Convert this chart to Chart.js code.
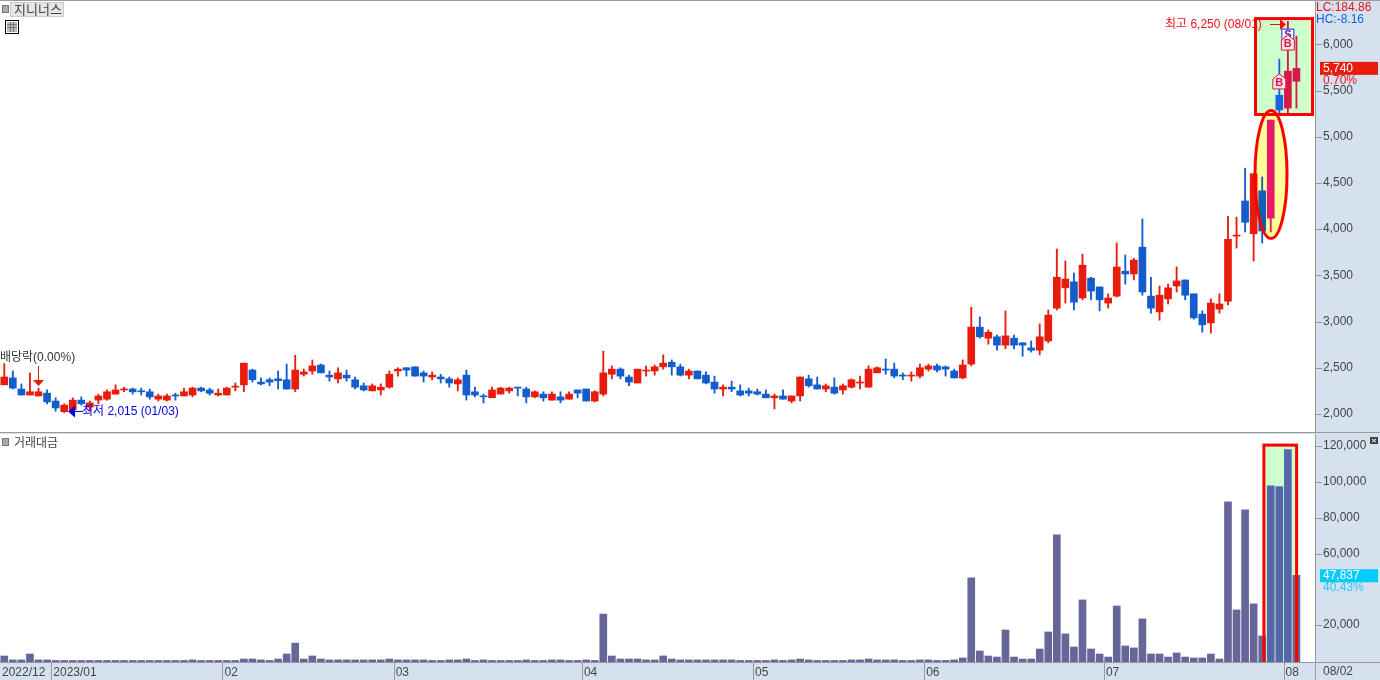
<!DOCTYPE html>
<html>
<head>
<meta charset="utf-8">
<script src="https://cdn.jsdelivr.net/npm/chart.js@4"></script>
<style>
  html, body { margin: 0; padding: 0; background: #d6e1ef; overflow: hidden; }
  #wrap { position: relative; width: 1380px; height: 680px; }
  canvas { position: absolute; left: 0; background: #d6e1ef; }
  #price { top: 0; }
  #volume { top: 434px; }
</style>
</head>
<body>
<div id="wrap">
  <canvas id="price" width="1380" height="433"></canvas>
  <canvas id="volume" width="1380" height="246"></canvas>
</div>
<script>
// --- Data ---
const opens = [
  2315,2390,2270,2205,2195,2225,2140,2025,2045,2150,
  2075,2150,2160,2215,2260,2270,2250,2240,2160,2150,
  2205,2195,2205,2280,2260,2205,2205,2290,2315,2475,
  2345,2370,2380,2370,2270,2430,2465,2530,2420,2380,
  2420,2370,2305,2250,2260,2290,2465,2500,2510,2445,
  2400,2400,2380,2325,2420,2240,2195,2175,2215,2250,
  2290,2270,2185,2215,2150,2185,2160,2260,2270,2140,
  2215,2430,2485,2400,2335,2465,2465,2510,2560,2510,
  2420,2465,2420,2345,2270,2290,2250,2250,2240,2215,
  2175,2195,2140,2195,2380,2315,2270,2290,2260,2290,
  2335,2290,2445,2485,2485,2420,2410,2410,2485,2520,
  2510,2465,2390,2540,2940,2820,2835,2745,2820,2770,
  2715,2690,2790,3145,3365,3430,3255,3470,3375,3200,
  3275,3545,3515,3805,3275,3105,3245,3385,3450,3300,
  3080,2985,3135,3220,3925,4305,3950,4415,4120,5450,
  5310,5600
];
const highs = [
  2545,2465,2325,2445,2280,2260,2175,2110,2175,2185,
  2140,2215,2260,2315,2290,2280,2280,2270,2215,2215,
  2225,2280,2290,2290,2280,2270,2290,2335,2550,2485,
  2390,2390,2465,2540,2635,2485,2585,2540,2465,2500,
  2475,2400,2335,2325,2325,2465,2500,2500,2510,2465,
  2455,2430,2400,2390,2475,2290,2215,2290,2290,2290,
  2290,2290,2250,2240,2240,2240,2240,2260,2270,2250,
  2680,2520,2500,2420,2485,2520,2530,2640,2585,2540,
  2485,2465,2455,2410,2315,2355,2315,2280,2270,2260,
  2215,2260,2195,2400,2420,2400,2325,2390,2325,2380,
  2410,2520,2510,2595,2550,2445,2455,2540,2540,2540,
  2520,2485,2585,3155,3050,2910,2855,3115,2855,2770,
  2790,2975,3125,3785,3655,3525,3730,3480,3375,3300,
  3850,3720,3685,4110,3480,3385,3405,3590,3450,3300,
  3115,3245,3300,4140,4130,4660,4600,4565,5180,5840,
  6250,6090
];
const lows = [
  2315,2270,2205,2205,2195,2110,2030,2015,2030,2095,
  2030,2110,2150,2215,2240,2215,2205,2160,2140,2140,
  2150,2195,2185,2240,2205,2195,2205,2250,2240,2345,
  2315,2305,2270,2270,2240,2410,2430,2445,2355,2335,
  2355,2270,2250,2250,2205,2280,2410,2410,2410,2345,
  2370,2335,2290,2250,2150,2185,2120,2175,2215,2225,
  2195,2120,2175,2140,2150,2120,2160,2175,2140,2130,
  2195,2380,2380,2305,2335,2410,2420,2485,2420,2410,
  2380,2380,2325,2225,2195,2240,2195,2195,2205,2175,
  2055,2160,2120,2140,2290,2270,2240,2215,2215,2280,
  2270,2290,2445,2430,2390,2370,2355,2390,2465,2455,
  2410,2390,2380,2520,2820,2755,2690,2705,2705,2625,
  2670,2640,2770,3125,3200,3125,3235,3235,3115,3145,
  3265,3405,3450,3285,3090,3015,3190,3320,3235,3025,
  2885,2875,3090,3180,3795,3970,3655,3850,3970,5255,
  5235,5310
];
const closes = [
  2400,2280,2205,2240,2240,2130,2065,2095,2150,2110,
  2120,2195,2240,2260,2270,2240,2240,2185,2195,2195,
  2195,2240,2280,2250,2225,2225,2280,2295,2550,2370,
  2325,2345,2360,2270,2475,2455,2520,2445,2400,2445,
  2390,2290,2260,2305,2290,2430,2485,2475,2410,2410,
  2420,2380,2335,2370,2205,2205,2185,2260,2280,2280,
  2280,2185,2240,2175,2215,2150,2215,2225,2140,2240,
  2445,2485,2410,2345,2485,2475,2510,2550,2510,2420,
  2465,2380,2335,2270,2290,2270,2205,2225,2215,2175,
  2195,2160,2195,2400,2305,2270,2305,2225,2305,2370,
  2345,2485,2500,2475,2410,2410,2420,2500,2520,2475,
  2485,2390,2530,2940,2835,2885,2745,2845,2745,2745,
  2690,2835,3070,3480,3460,3210,3610,3330,3235,3255,
  3590,3515,3665,3320,3145,3285,3365,3440,3285,3040,
  2965,3200,3190,3890,3935,4075,4600,3980,5180,5290,
  5710,5740
];
const turnover = [
  2800,600,600,3900,600,600,300,300,300,300,
  300,300,300,300,300,300,300,300,300,300,
  300,300,600,300,300,300,300,300,1100,1100,
  600,300,1100,3900,10000,1100,2800,1100,600,600,
  600,600,600,600,600,1100,600,600,600,600,
  300,300,600,600,1100,300,600,300,300,300,
  300,600,300,300,600,600,300,300,600,300,
  26200,2800,1100,1100,1100,600,600,2800,1100,600,
  600,600,600,600,600,600,300,300,300,300,
  600,300,600,1100,600,300,300,300,300,600,
  600,1100,600,600,600,300,300,600,600,300,
  300,600,1700,46400,5600,2800,2200,17300,2200,1100,
  1100,6700,16200,70400,15100,7800,34100,6700,3900,2200,
  30700,8400,7300,23500,3900,3900,2200,4500,2200,1700,
  1700,3900,1100,88900,28500,84400,31900,14000,97800,97300,
  118000,47837
];
const monthStarts = [0, 6, 26, 46, 68, 88, 108, 129, 150];
const monthLabels = ['2022/12', '2023/01', '02', '03', '04', '05', '06', '07', '08'];
const priceLabels = [2000, 2500, 3000, 3500, 4000, 4500, 5000, 5500, 6000];
const turnoverLabels = [20000, 60000, 80000, 100000, 120000];

// --- Look ---
const RED = '#e81c0c', BLUE = '#125cce', BAR = '#666699', GRID = '#999999', TEXT = '#444444';
const FONT = '12px "Liberation Sans", "Noto Sans CJK KR", sans-serif';
const XMIN = -0.5, XMAX = 153.17;
// candles the chart tool recoloured inside the highlight boxes
const accent = { 147: '#0f5fb2', 148: '#e8186c', 149: '#2060e6', 150: '#d81848', 151: '#d81848' };
const barAccent = { 148: '#5566aa', 149: '#5566aa', 150: '#5566aa' };

const candleColor = (i) => accent[i] || (closes[i] >= opens[i] ? RED : BLUE);
const fmt = (n) => n.toLocaleString('en-US');

function text(ctx, str, x, y, color, font) {
  ctx.font = font || FONT;
  ctx.fillStyle = color;
  ctx.textAlign = 'left';
  ctx.textBaseline = 'middle';
  ctx.fillText(str, x, y);
}

function paneMark(ctx, y) {
  ctx.fillStyle = '#aaaaaa';
  ctx.fillRect(3, y, 5, 6);
  ctx.strokeStyle = '#777777';
  ctx.strokeRect(2.5, y - 0.5, 6, 7);
}

function ellipseAt(chart, x1, x2, y1, y2) {
  const { x, y } = chart.scales;
  const l = x.getPixelForValue(x1), r = x.getPixelForValue(x2);
  const t = y.getPixelForValue(y1), b = y.getPixelForValue(y2);
  chart.ctx.beginPath();
  chart.ctx.ellipse((l + r) / 2, (t + b) / 2, (r - l) / 2, (b - t) / 2, 0, 0, Math.PI * 2);
}

function rectAt(chart, x1, x2, y1, y2) {
  const { x, y } = chart.scales;
  const l = x.getPixelForValue(x1), r = x.getPixelForValue(x2);
  const t = y.getPixelForValue(y1), b = y.getPixelForValue(y2);
  return [l, t, r - l, b - t];
}

// white plot on blue canvas, plus hand drawn tick marks on the right axis
const frame = {
  id: 'frame',
  beforeDraw(chart) {
    const a = chart.chartArea;
    chart.ctx.fillStyle = '#ffffff';
    chart.ctx.fillRect(a.left, a.top, a.right - a.left, a.bottom - a.top);
  },
  afterDraw(chart) {
    const ctx = chart.ctx, y = chart.scales.y, a = chart.chartArea;
    ctx.lineWidth = 1;
    ctx.strokeStyle = GRID;
    y.ticks.forEach((t) => {
      const py = Math.round(y.getPixelForValue(t.value)) + 0.5;
      ctx.beginPath();
      ctx.moveTo(a.right, py);
      ctx.lineTo(a.right + (t.label ? 7 : 3), py);
      ctx.stroke();
    });
    ctx.beginPath();
    ctx.moveTo(a.right + 0.5, 0);
    ctx.lineTo(a.right + 0.5, chart.height);
    ctx.stroke();
  }
};

function marker(ctx, cx, tip, label, color) {
  ctx.beginPath();
  ctx.moveTo(cx, tip);
  ctx.lineTo(cx + 6.5, tip + 5);
  ctx.lineTo(cx + 6.5, tip + 15);
  ctx.lineTo(cx - 6.5, tip + 15);
  ctx.lineTo(cx - 6.5, tip + 5);
  ctx.closePath();
  ctx.fillStyle = '#ffe4e4';
  ctx.fill();
  ctx.strokeStyle = color;
  ctx.lineWidth = 1;
  ctx.stroke();
  text(ctx, label, cx - 4, tip + 9, color, 'bold 11px "Liberation Sans"');
}

const priceOverlay = {
  id: 'priceOverlay',
  beforeDatasetsDraw(chart) {
    const ctx = chart.ctx;
    ctx.fillStyle = '#ccffcc';
    ctx.fillRect(...rectAt(chart, 146.22, 152.88, 6279, 5241));
    ellipseAt(chart, 146.16, 149.9, 5284, 3899);
    ctx.fillStyle = '#ffff99';
    ctx.fill();
  },
  afterDatasetsDraw(chart) {
    const ctx = chart.ctx, x = chart.scales.x, y = chart.scales.y;
    // sell and buy signals
    const sx = x.getPixelForValue(150);
    ctx.fillStyle = '#ffffff';
    ctx.strokeStyle = '#3a20c0';
    ctx.lineWidth = 1;
    ctx.fillRect(sx - 6, y.getPixelForValue(6165), 12, 11);
    ctx.strokeRect(sx - 6, y.getPixelForValue(6165), 12, 11);
    text(ctx, 'S', sx - 3.5, y.getPixelForValue(6165) + 6, '#3a20c0', 'bold 11px "Liberation Sans"');
    marker(ctx, sx, y.getPixelForValue(6100), 'B', '#d81848');
    marker(ctx, x.getPixelForValue(149), y.getPixelForValue(5680), 'B', '#d81848');

    // high note
    text(ctx, '최고 6,250 (08/01)', 1165, y.getPixelForValue(6250) + 3, '#ee1111');
    ctx.strokeStyle = '#ee1111';
    ctx.fillStyle = '#ee1111';
    ctx.lineWidth = 1;
    ctx.beginPath();
    ctx.moveTo(1270, 24.5); ctx.lineTo(1282, 24.5); ctx.stroke();
    ctx.beginPath();
    ctx.moveTo(1280, 19); ctx.lineTo(1286, 24.5); ctx.lineTo(1280, 30); ctx.fill();

    ctx.strokeStyle = '#ff0000';
    ctx.lineWidth = 3;
    ctx.strokeRect(...rectAt(chart, 146.22, 152.88, 6279, 5241));
    ellipseAt(chart, 146.16, 149.9, 5284, 3899);
    ctx.stroke();

    // low note
    ctx.lineWidth = 1;
    ctx.strokeStyle = '#0000dd';
    ctx.fillStyle = '#0000dd';
    const lowY = Math.round(y.getPixelForValue(2015)) - 1.5;
    ctx.beginPath();
    ctx.moveTo(74, lowY); ctx.lineTo(83, lowY); ctx.stroke();
    ctx.beginPath();
    ctx.moveTo(68, lowY); ctx.lineTo(75, lowY - 6); ctx.lineTo(75, lowY + 6); ctx.fill();
    text(ctx, '최저 2,015 (01/03)', 82, lowY, '#0000dd');

    // dividend note
    const dx = x.getPixelForValue(4);
    text(ctx, '배당락(0.00%)', 0, 358, '#333333');
    ctx.strokeStyle = RED;
    ctx.fillStyle = RED;
    ctx.beginPath();
    ctx.moveTo(dx, 366); ctx.lineTo(dx, 381); ctx.stroke();
    ctx.beginPath();
    ctx.moveTo(dx - 5.5, 380); ctx.lineTo(dx + 5.5, 380); ctx.lineTo(dx, 386); ctx.fill();
  },
  afterDraw(chart) {
    const ctx = chart.ctx, y = chart.scales.y;
    // pane title
    ctx.strokeStyle = GRID;
    ctx.lineWidth = 1;
    ctx.beginPath(); ctx.moveTo(0, 0.5); ctx.lineTo(1380, 0.5); ctx.stroke();
    paneMark(ctx, 6);
    ctx.fillStyle = '#e6e6e6';
    ctx.fillRect(10, 2, 54, 15);
    ctx.strokeStyle = '#cccccc';
    ctx.strokeRect(10.5, 2.5, 53, 14);
    text(ctx, '지니너스', 14, 9.5, TEXT, '13px "Noto Sans CJK KR"');
    // table icon
    ctx.strokeStyle = '#000000';
    ctx.strokeRect(5.5, 20.5, 13, 13);
    ctx.fillStyle = '#bbbbbb';
    ctx.fillRect(7, 22, 10, 10);
    ctx.strokeStyle = '#777777';
    [10.5, 13.5].forEach((gx) => { ctx.beginPath(); ctx.moveTo(gx, 22); ctx.lineTo(gx, 32); ctx.stroke(); });
    [24.5, 27.5].forEach((gy) => { ctx.beginPath(); ctx.moveTo(7, gy); ctx.lineTo(17, gy); ctx.stroke(); });

    // right side readouts
    text(ctx, 'LC:184.86', 1316, 8, '#ee1111');
    text(ctx, 'HC:-8.16', 1316, 20, '#1060dd');
    const py = y.getPixelForValue(closes[closes.length - 1]);
    ctx.fillStyle = RED;
    ctx.fillRect(1320, py - 6.5, 58, 13);
    text(ctx, fmt(closes[closes.length - 1]), 1323, py, '#ffffff');
    text(ctx, '0.70%', 1323, py + 12, '#ee1111');

    ctx.strokeStyle = GRID;
    ctx.beginPath(); ctx.moveTo(0, 432.5); ctx.lineTo(1380, 432.5); ctx.stroke();
  }
};

const volumeOverlay = {
  id: 'volumeOverlay',
  beforeDatasetsDraw(chart) {
    chart.ctx.fillStyle = '#ccffcc';
    chart.ctx.fillRect(...rectAt(chart, 147.2, 151.02, 120500, -558));
  },
  afterDatasetsDraw(chart) {
    // the box runs past the pane bottom, its lower edge stays hidden
    const ctx = chart.ctx, a = chart.chartArea;
    ctx.save();
    ctx.beginPath();
    ctx.rect(a.left, a.top, a.right - a.left, a.bottom - a.top);
    ctx.clip();
    ctx.strokeStyle = '#ff0000';
    ctx.lineWidth = 3;
    ctx.strokeRect(...rectAt(chart, 147.2, 151.02, 120500, -6000));
    ctx.restore();
  },
  afterDraw(chart) {
    const ctx = chart.ctx, x = chart.scales.x, y = chart.scales.y, a = chart.chartArea;
    paneMark(ctx, 5);
    text(ctx, '거래대금', 14, 8, TEXT, '12px "Noto Sans CJK KR"');
    // close box of the pane
    ctx.fillStyle = '#444444';
    ctx.fillRect(1370, 3, 8, 7);
    ctx.strokeStyle = '#ffffff';
    ctx.beginPath();
    ctx.moveTo(1372, 5); ctx.lineTo(1376, 8); ctx.moveTo(1376, 5); ctx.lineTo(1372, 8);
    ctx.stroke();

    // month dividers in the time strip
    ctx.strokeStyle = GRID;
    ctx.lineWidth = 1;
    ctx.beginPath(); ctx.moveTo(0, a.bottom + 0.5); ctx.lineTo(1380, a.bottom + 0.5); ctx.stroke();
    x.ticks.forEach((t) => {
      const px = Math.round(x.getPixelForValue(t.value)) + 0.5;
      if (t.value < 0) return;
      ctx.beginPath(); ctx.moveTo(px, a.bottom); ctx.lineTo(px, a.bottom + 18); ctx.stroke();
    });
    text(ctx, '08/02', 1323, a.bottom + 10, TEXT);

    const last = turnover[turnover.length - 1];
    const py = y.getPixelForValue(last) + 0.5;
    ctx.fillStyle = '#00ccff';
    ctx.fillRect(1320, py - 6.5, 58, 13);
    text(ctx, fmt(last), 1323, py, '#ffffff');
    text(ctx, '40.43%', 1323, py + 12, '#22ccff');
  }
};

function noMargins(scale) {
  scale.paddingLeft = scale.paddingRight = scale.paddingTop = scale.paddingBottom = 0;
}

function rightAxis(min, max, step, labelled) {
  return {
    position: 'right',
    min, max,
    bounds: 'data',
    border: { display: false },
    grid: { display: false, drawTicks: false },
    ticks: {
      autoSkip: false,
      padding: 8,
      crossAlign: 'near',
      color: TEXT,
      font: { family: '"Liberation Sans"', size: 12 },
      callback: (v) => labelled.includes(v) ? fmt(v) : null
    },
    afterBuildTicks(scale) {
      const out = [];
      for (let v = 0; v <= max; v += step) if (v >= min) out.push({ value: v });
      scale.ticks = out;
    },
    afterFit(scale) { scale.width = 65; noMargins(scale); }
  };
}

const hiddenX = { type: 'linear', min: XMIN, max: XMAX, offset: false, display: false, afterFit: noMargins };

new Chart(document.getElementById('price'), {
  type: 'bar',
  data: {
    datasets: [
      {
        label: 'wick',
        data: highs.map((h, i) => ({ x: i, y: [lows[i], h] })),
        backgroundColor: highs.map((h, i) => candleColor(i)),
        barThickness: 1.2,
        order: 2
      },
      {
        label: 'body',
        data: opens.map((o, i) => ({ x: i, y: [Math.min(o, closes[i]), Math.max(o, closes[i])] })),
        backgroundColor: opens.map((o, i) => candleColor(i)),
        barThickness: 7,
        minBarLength: 1,
        order: 1
      }
    ]
  },
  options: {
    responsive: false,
    animation: false,
    devicePixelRatio: 1,
    layout: { padding: 0 },
    plugins: { legend: { display: false }, tooltip: { enabled: false } },
    datasets: { bar: { grouped: false } },
    scales: { x: hiddenX, y: rightAxis(1794, 6480, 100, priceLabels) }
  },
  plugins: [frame, priceOverlay]
});

const VOL_BASE = -558;

new Chart(document.getElementById('volume'), {
  type: 'bar',
  data: {
    datasets: [{
      label: '거래대금',
      data: turnover.map((v, i) => ({ x: i, y: v })),
      backgroundColor: turnover.map((v, i) => barAccent[i] || BAR),
      base: VOL_BASE,
      barThickness: 7
    }]
  },
  options: {
    responsive: false,
    animation: false,
    devicePixelRatio: 1,
    layout: { padding: 0 },
    plugins: { legend: { display: false }, tooltip: { enabled: false } },
    scales: {
      x: {
        type: 'linear',
        min: XMIN,
        max: XMAX,
        offset: false,
        bounds: 'data',
        border: { display: false },
        grid: { display: false, drawTicks: false },
        ticks: {
          autoSkip: false,
          maxRotation: 0,
          align: 'start',
          labelOffset: 2,
          padding: 3,
          color: TEXT,
          font: { family: '"Liberation Sans"', size: 12 },
          callback: (v) => monthLabels[monthStarts.indexOf(v + 0.5)]
        },
        afterBuildTicks(scale) { scale.ticks = monthStarts.map((m) => ({ value: m - 0.5 })); },
        afterFit(scale) { scale.height = 18; noMargins(scale); }
      },
      y: rightAxis(VOL_BASE, 126700, 4000, turnoverLabels)
    }
  },
  plugins: [frame, volumeOverlay]
});
</script>
</body>
</html>
